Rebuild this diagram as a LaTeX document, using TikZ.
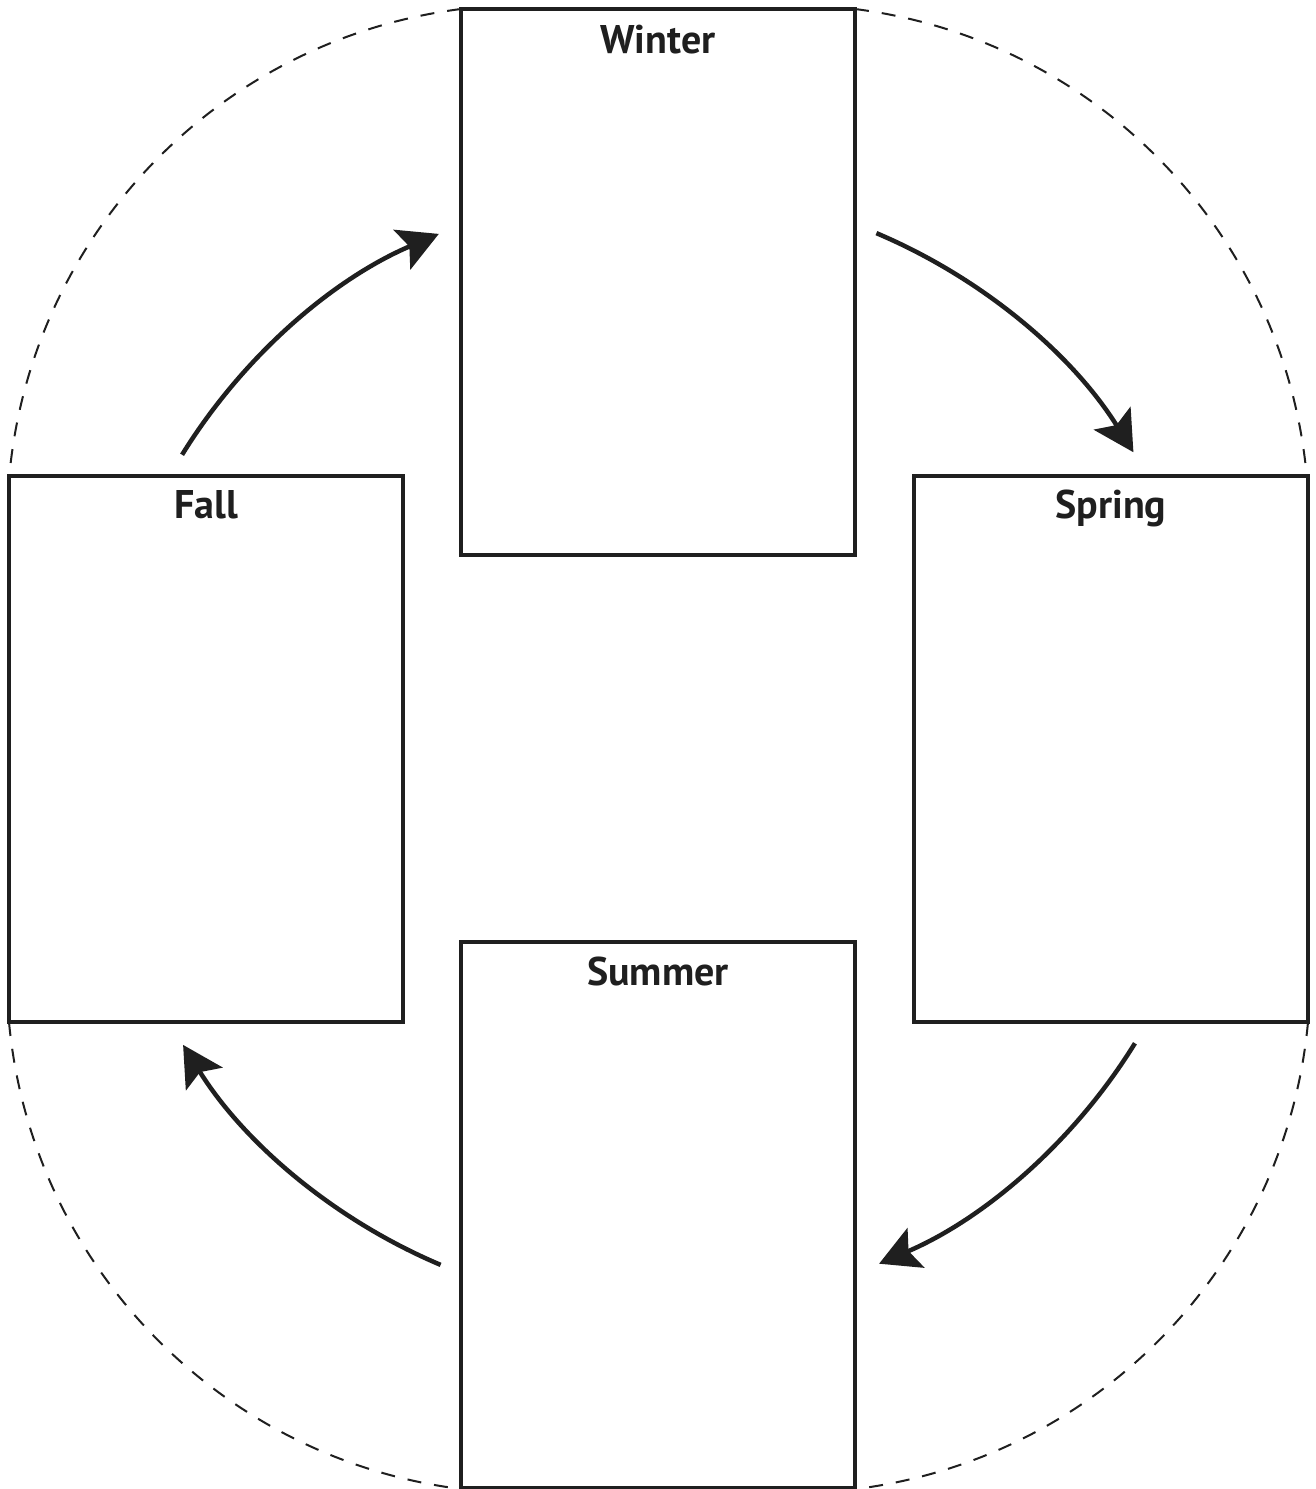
\documentclass[tikz,border=0pt]{standalone}
\usepackage{fontspec}
\setmainfont{PT Sans}
\usetikzlibrary{arrows.meta,calc}
\begin{document}
\begin{tikzpicture}[x=1pt,y=-1pt,
  seasonbox/.style={draw=black!88,line width=4.2pt,fill=white,minimum width=394pt,minimum height=546pt,inner sep=0pt,outer sep=0pt},
  seasonlabel/.style={anchor=base,font=\fontsize{40}{40}\selectfont\bfseries,text=black!88,inner sep=0pt},
  ring/.style={draw=black!88,line width=2pt,dash pattern=on 14pt off 13pt},
  cyclearrow/.style={draw=black!88,line width=4.5pt,-{Stealth[length=40pt,width=43pt,inset=8pt]}}]
\useasboundingbox (0,0) rectangle (1315,1489);
\fill[white] (0,0) rectangle (1315,1489);
% boxes
\node[seasonbox] (W) at (658,282) {};
\node[seasonbox] (F) at (206,749) {};
\node[seasonbox] (S) at (1111,749) {};
\node[seasonbox] (U) at (658,1215) {};
% labels
\node[seasonlabel] (Wl) at ($(W.north)+(0,44)$) {Winter};
\node[seasonlabel] (Fl) at ($(F.north)+(0,42)$) {Fall};
\node[seasonlabel] (Sl) at ($(S.north)+(0,42)$) {Spring};
\node[seasonlabel] (Ul) at ($(U.north)+(0,43)$) {Summer};
% dashed outline arcs
\draw[ring] (W.north west) arc[start angle=-97.2,end angle=-174.7,radius=519];
\draw[ring] (W.north east) arc[start angle=-82.8,end angle=-5.3,radius=519];
\draw[ring] (S.south east) arc[start angle=5.3,end angle=82.8,radius=519];
\draw[ring] (F.south west) arc[start angle=174.7,end angle=97.2,radius=519];
% arrows
\coordinate (c) at (658.5,749);
\coordinate (a1) at ($(c)+(211.7:560)$);
\coordinate (a2) at ($(c)+(292.9:560)$);
\coordinate (a3) at ($(c)+(31.7:560)$);
\coordinate (a4) at ($(c)+(112.9:560)$);
\draw[cyclearrow] (a1) arc[start angle=211.7,end angle=246.9,radius=560];
\draw[cyclearrow] (a2) arc[start angle=292.9,end angle=328.0,radius=560];
\draw[cyclearrow] (a3) arc[start angle=31.7,end angle=66.8,radius=560];
\draw[cyclearrow] (a4) arc[start angle=112.9,end angle=148.1,radius=560];
\end{tikzpicture}
\end{document}
